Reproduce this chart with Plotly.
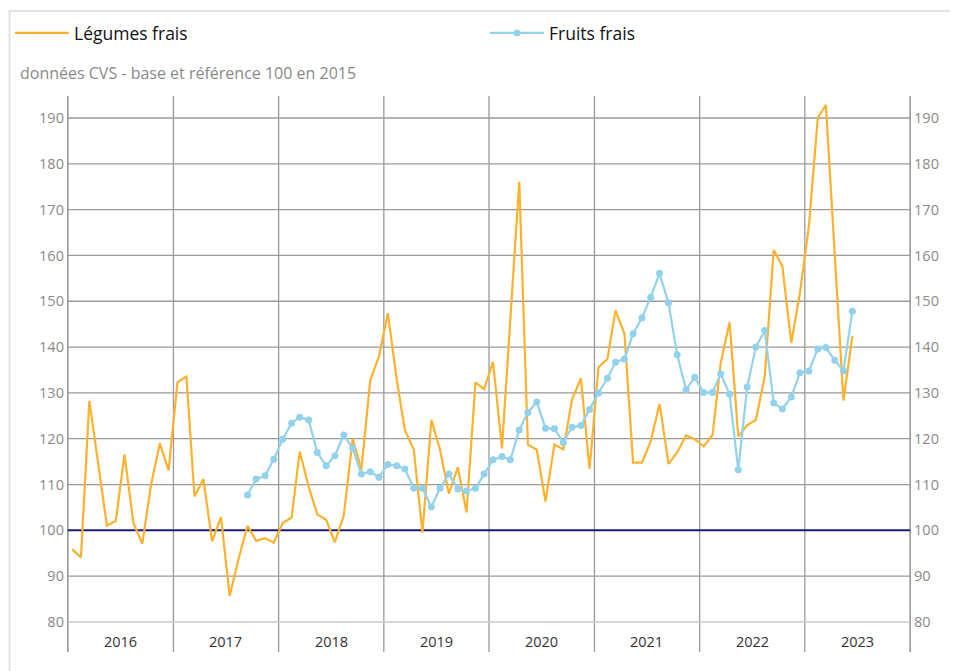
import plotly.graph_objects as go
import pandas as pd

# ---- data ----
start_legumes = "2016-01-01"
start_fruits = "2017-09-01"

legumes = [
    95.9, 94.1, 128.3, 114.5, 101.0, 102.1, 116.6, 101.6, 97.1, 109.9, 119.0, 113.1,   # 2016
    132.3, 133.6, 107.4, 111.2, 97.6, 102.9, 85.7, 93.8, 101.0, 97.7, 98.3, 97.3,      # 2017
    101.6, 102.8, 117.2, 109.6, 103.5, 102.3, 97.4, 103.2, 120.0, 113.2, 132.8, 137.9, # 2018
    147.4, 132.8, 121.9, 117.6, 99.5, 124.1, 117.6, 108.0, 113.8, 103.9, 132.3, 130.8, # 2019
    136.8, 117.9, 146.0, 176.1, 118.7, 117.6, 106.3, 118.7, 117.7, 128.5, 133.2, 113.4,# 2020
    135.6, 137.4, 148.0, 142.9, 114.8, 114.8, 119.4, 127.6, 114.5, 117.0, 120.7, 119.9,# 2021
    118.3, 120.8, 136.5, 145.4, 120.5, 123.0, 124.1, 133.6, 161.2, 157.7, 140.9, 151.8,# 2022
    166.3, 190.0, 192.9, 160.5, 128.3, 142.4,                                          # 2023
]

fruits = [
    107.7, 111.2, 111.9, 115.5,                                                        # 2017
    119.9, 123.4, 124.7, 124.1, 117.0, 114.1, 116.3, 120.8, 117.9, 112.3, 112.8, 111.6,# 2018
    114.4, 114.1, 113.4, 109.2, 109.2, 105.1, 109.2, 112.3, 109.0, 108.6, 109.2, 112.3,# 2019
    115.4, 116.1, 115.4, 121.9, 125.7, 128.0, 122.3, 122.2, 119.2, 122.5, 122.9, 126.4,# 2020
    130.0, 133.2, 136.7, 137.4, 142.9, 146.4, 150.9, 156.1, 149.6, 138.3, 130.7, 133.4,# 2021
    130.1, 130.1, 134.2, 129.7, 113.2, 131.3, 140.0, 143.6, 127.8, 126.5, 129.1, 134.4,# 2022
    134.8, 139.6, 139.9, 137.1, 134.8, 147.8,                                          # 2023
]

years = [2016, 2017, 2018, 2019, 2020, 2021, 2022, 2023]
y_ticks = [80, 90, 100, 110, 120, 130, 140, 150, 160, 170, 180, 190]

names = ["Légumes frais", "Fruits frais"]
subtitle = "données CVS - base et référence 100 en 2015"

# month mid-points
x_leg = pd.date_range(start_legumes, periods=len(legumes), freq="MS") + pd.Timedelta(days=14)
x_fru = pd.date_range(start_fruits, periods=len(fruits), freq="MS") + pd.Timedelta(days=14)

ORANGE = "#FDB22F"
BLUE = "#93D2EC"
GRID = "#9a9a9a"
FONT = "Open Sans"

# the page body has an 8px margin, so the figure sits at (8, 8) in the window
OFF = 8
W, H = 950, 663
PX0, PX1 = 67.5 - OFF, 910.5 - OFF     # plot area in figure pixels
PY0, PY1 = 96 - OFF, 652 - OFF
L, R, T, B = PX0, W - PX1, PY0, H - PY1
plot_w = PX1 - PX0
plot_h = PY1 - PY0


def px(xw):
    """window x pixel -> paper x"""
    return (xw - OFF - PX0) / plot_w


def py(yw):
    """window y pixel -> paper y"""
    return (PY1 - (yw - OFF)) / plot_h


Y_MIN, Y_MAX = 73.45, 194.8

fig = go.Figure()
fig.add_trace(go.Scatter(x=x_leg, y=legumes, mode="lines", name=names[0],
                         line=dict(color=ORANGE, width=2.2), legend="legend"))
fig.add_trace(go.Scatter(x=x_fru, y=fruits, mode="lines+markers", name=names[1],
                         line=dict(color=BLUE, width=2.2),
                         marker=dict(color=BLUE, size=7), yaxis="y2", legend="legend2"))

shapes = []
# year separators (full height)
for yr in years + [years[-1] + 1]:
    shapes.append(dict(type="line", xref="x", yref="paper",
                       x0=f"{yr}-01-01", x1=f"{yr}-01-01", y0=0, y1=1,
                       line=dict(color=GRID, width=1.3), layer="below"))
# horizontal grid
for v in y_ticks:
    if v == 100:
        continue
    shapes.append(dict(type="line", xref="paper", yref="y", x0=0, x1=1, y0=v, y1=v,
                       line=dict(color="#c8c8c8" if v == 80 else GRID, width=1.3), layer="below"))
# reference line 100
shapes.append(dict(type="line", xref="paper", yref="y", x0=0, x1=1, y0=100, y1=100,
                   line=dict(color="#1b1b78", width=2), layer="below"))
# card border (top & left)
shapes.append(dict(type="line", xref="paper", yref="paper", x0=px(8), x1=px(958),
                   y0=py(11), y1=py(11), line=dict(color="#e2e2e2", width=2)))
shapes.append(dict(type="line", xref="paper", yref="paper", x0=px(9), x1=px(9),
                   y0=py(671), y1=py(11), line=dict(color="#e2e2e2", width=2)))
# longer legend keys (reference keys are ~45px long)
shapes.append(dict(type="line", xref="paper", yref="paper", x0=px(15), x1=px(60),
                   y0=py(33), y1=py(33), line=dict(color=ORANGE, width=2.2)))
shapes.append(dict(type="line", xref="paper", yref="paper", x0=px(490), x1=px(535),
                   y0=py(33), y1=py(33), line=dict(color=BLUE, width=2.2)))

annotations = []
for yr in years:
    annotations.append(dict(x=f"{yr}-07-02", xref="x", y=py(641), yref="paper",
                            text=str(yr), showarrow=False, xanchor="center", yanchor="middle",
                            font=dict(family=FONT, size=14.5, color="#333333")))
annotations.append(dict(x=px(17), xref="paper", y=py(73), yref="paper",
                        text=subtitle, showarrow=False, xanchor="left", yanchor="middle",
                        font=dict(family=FONT, size=16, color="#8a8a8a")))

axis_common = dict(range=[Y_MIN, Y_MAX], tickvals=y_ticks, showgrid=False, zeroline=False,
                   showline=True, linecolor=GRID, linewidth=1.3,
                   tickfont=dict(family=FONT, size=14.5, color="#8a8a8a"),
                   ticks="", ticklabelstandoff=0)

legend_common = dict(orientation="h", xref="container", yref="container",
                     xanchor="left", yanchor="top", itemwidth=54,
                     font=dict(family=FONT, size=17.5, color="#111111"),
                     bgcolor="rgba(0,0,0,0)")

fig.update_layout(
    width=W, height=H,
    margin=dict(l=L, r=R, t=T, b=B, autoexpand=False),
    plot_bgcolor="white", paper_bgcolor="white",
    font=dict(family=FONT),
    xaxis=dict(type="date", range=["2016-01-01", "2024-01-01"], showgrid=False,
               showticklabels=False, zeroline=False, showline=False, ticks=""),
    yaxis=dict(side="left", **axis_common),
    yaxis2=dict(side="right", overlaying="y", **axis_common),
    shapes=shapes,
    annotations=annotations,
    showlegend=True,
    legend=dict(x=2 / W, y=1 - 7 / H, **legend_common),
    legend2=dict(x=477 / W, y=1 - 7 / H, **legend_common),
)

fig.write_html("out.html")
